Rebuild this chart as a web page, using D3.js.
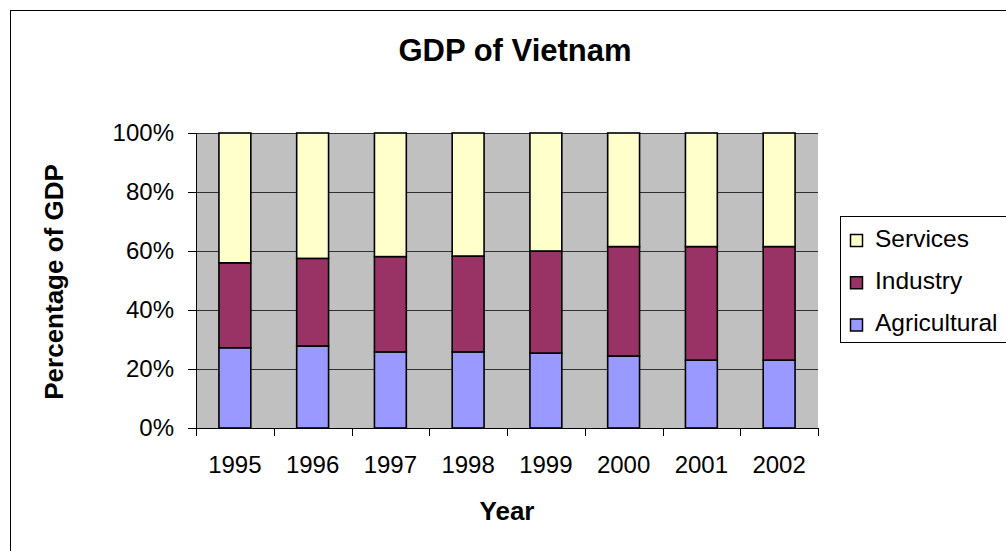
<!DOCTYPE html>
<html><head><meta charset="utf-8">
<script src="https://cdn.jsdelivr.net/npm/d3@7"></script>
<style>html,body{margin:0;padding:0;background:#fff;overflow:hidden}text{font-family:"Liberation Sans",Arial,sans-serif}</style>
</head><body><svg id="c" width="1006" height="551"></svg>
<script>
const years = ["1995","1996","1997","1998","1999","2000","2001","2002"];
const agricultural = [27.2, 27.8, 25.8, 25.8, 25.4, 24.4, 23.0, 23.0];
const industry = [28.8, 29.7, 32.3, 32.5, 34.6, 37.1, 38.5, 38.5];
const services = [44.0, 42.5, 41.9, 41.7, 40.0, 38.5, 38.5, 38.5];
const seriesNames = ["Agricultural","Industry","Services"];
const seriesColors = ["#9999FF","#993366","#FFFFCC"];
const yTicks = [0,20,40,60,80,100];

(function(){
const svg = d3.select("#c");
svg.append("rect").attr("x",10.5).attr("y",10.5).attr("width",1010).attr("height",560)
  .attr("fill","#fff").attr("stroke","#000").attr("stroke-width",1);

const pL = 196, pR = 818, pT = 133, pB = 428;
const x = d3.scaleBand().domain(years).range([pL,pR]).padding(0);
const y = d3.scaleLinear().domain([0,100]).range([pB,pT]);

svg.append("rect").attr("x",pL).attr("y",pT).attr("width",pR-pL).attr("height",pB-pT).attr("fill","#C0C0C0");

svg.append("g").selectAll("line").data(yTicks.slice(1)).join("line")
  .attr("x1",pL).attr("x2",pR).attr("y1",d=>Math.round(y(d))+0.5).attr("y2",d=>Math.round(y(d))+0.5)
  .attr("stroke","#303030").attr("stroke-width",1);

const rows = years.map((yr,i)=>({year:yr, Agricultural:agricultural[i], Industry:industry[i], Services:services[i]}));
const stack = d3.stack().keys(seriesNames)(rows);
const bw = x.bandwidth()*0.41;
const g = svg.append("g");
stack.forEach((s,si)=>{
  g.selectAll(null).data(s).join("rect")
    .attr("x",d=>x(d.data.year)+(x.bandwidth()-bw)/2)
    .attr("y",d=>y(d[1]))
    .attr("width",bw)
    .attr("height",d=>y(d[0])-y(d[1]))
    .attr("fill",seriesColors[si]).attr("stroke","#000").attr("stroke-width",1.6);
});

const ya = svg.append("g").attr("transform",`translate(${pL},0)`)
  .call(d3.axisLeft(y).tickValues(yTicks).tickFormat(d=>d+"%").tickSizeOuter(0).tickSize(8).tickPadding(14));
ya.select(".domain").attr("stroke","#000");
ya.selectAll("text").attr("font-size",24).attr("fill","#000").attr("font-family","Liberation Sans, Arial, sans-serif");

svg.append("line").attr("x1",pL).attr("x2",pR).attr("y1",pB+0.5).attr("y2",pB+0.5).attr("stroke","#000");
const bounds = years.map(d=>x(d)).concat([pR]);
svg.append("g").selectAll("line").data(bounds).join("line")
  .attr("x1",d=>Math.round(d)+0.5).attr("x2",d=>Math.round(d)+0.5).attr("y1",pB).attr("y2",pB+8).attr("stroke","#000");
svg.append("g").selectAll("text").data(years).join("text")
  .attr("x",d=>x(d)+x.bandwidth()/2).attr("y",473).attr("text-anchor","middle")
  .attr("font-size",24).text(d=>d);

svg.append("text").attr("x",515).attr("y",61).attr("text-anchor","middle").attr("font-size",31).attr("font-weight","bold").text("GDP of Vietnam");
svg.append("text").attr("x",507).attr("y",520).attr("text-anchor","middle").attr("font-size",26).attr("font-weight","bold").text("Year");
svg.append("text").attr("transform","translate(63,282) rotate(-90)").attr("text-anchor","middle").attr("font-size",26).attr("font-weight","bold").text("Percentage of GDP");

const lg = svg.append("g");
lg.append("rect").attr("x",840.5).attr("y",216.5).attr("width",200).attr("height",126).attr("fill","#fff").attr("stroke","#000");
const legendItems = seriesNames.slice().reverse().map(n=>({name:n,color:seriesColors[seriesNames.indexOf(n)]}));
const ly = d3.scalePoint().domain(legendItems.map(d=>d.name)).range([246.5,331]);
legendItems.forEach(d=>{
  lg.append("rect").attr("x",850.5).attr("y",ly(d.name)-12).attr("width",12).attr("height",12).attr("fill",d.color).attr("stroke","#000").attr("stroke-width",1.5);
  lg.append("text").attr("x",875).attr("y",ly(d.name)).attr("font-size",24.5).text(d.name);
});
})();
</script></body></html>
